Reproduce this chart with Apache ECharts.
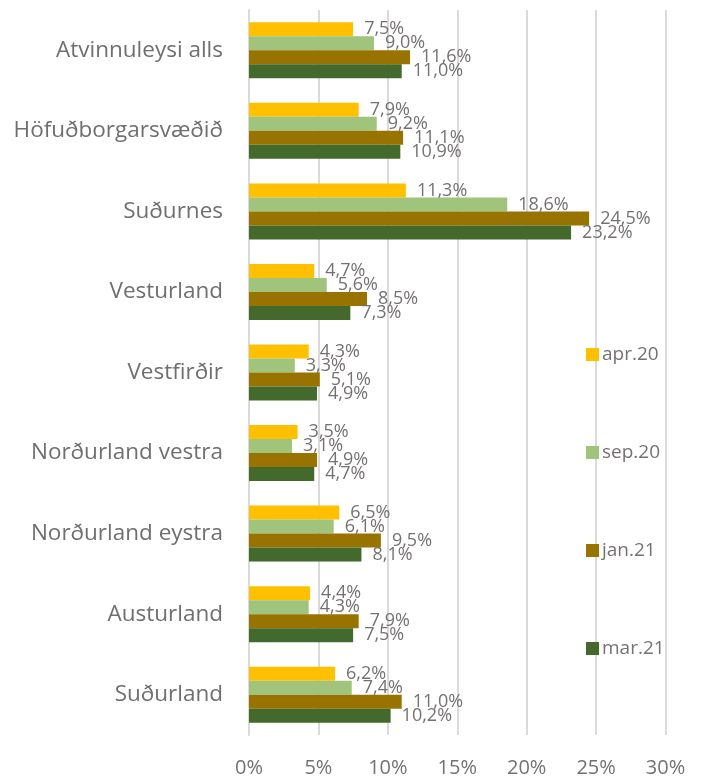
<!DOCTYPE html>
<html>
<head>
<meta charset="utf-8">
<script src="https://cdn.jsdelivr.net/npm/echarts@6/dist/echarts.min.js"></script>
<style>html,body{margin:0;padding:0;background:#fff}#c{width:704px;height:778px}</style>
</head>
<body>
<div id="c"></div>
<script>
const categories = ["Atvinnuleysi alls","Höfuðborgarsvæðið","Suðurnes","Vesturland","Vestfirðir","Norðurland vestra","Norðurland eystra","Austurland","Suðurland"];
const seriesNames = ["apr.20","sep.20","jan.21","mar.21"];
const apr20 = [7.5,7.9,11.3,4.7,4.3,3.5,6.5,4.4,6.2];
const sep20 = [9.0,9.2,18.6,5.6,3.3,3.1,6.1,4.3,7.4];
const jan21 = [11.6,11.1,24.5,8.5,5.1,4.9,9.5,7.9,11.0];
const mar21 = [11.0,10.9,23.2,7.3,4.9,4.7,8.1,7.5,10.2];
const xTicks = [0,5,10,15,20,25,30];

const colors = ["#FFC000","#A0C47C","#997300","#44692C"];
const data = [apr20, sep20, jan21, mar21];
const font = "'Open Sans', 'Noto Sans', sans-serif";
const chart = echarts.init(document.getElementById('c'));
chart.setOption({
  animation: false,
  textStyle: {fontFamily: font},
  grid: {left: 249, right: 38.5, top: 10, bottom: 43, containLabel: false},
  legend: {
    orient: 'vertical', left: 581, top: 340,
    itemWidth: 13, itemHeight: 13, itemGap: 79,
    icon: 'rect',
    data: seriesNames,
    textStyle: {color: '#767171', fontSize: 19, fontFamily: font, padding: [0,0,0,-2]}
  },
  xAxis: {
    type: 'value', min: xTicks[0], max: xTicks[xTicks.length-1], interval: 5,
    axisLine: {show: false}, axisTick: {show: false},
    splitLine: {lineStyle: {color: '#dadada', width: 2}},
    axisLabel: {formatter: '{value}%', color: '#767171', fontSize: 20, margin: 23, fontFamily: font}
  },
  yAxis: {
    type: 'category', data: categories, inverse: true,
    axisLine: {show: true, lineStyle: {color: '#dadada', width: 2}},
    axisTick: {show: false},
    axisLabel: {color: '#6f6f6f', fontSize: 22.5, margin: 26, fontFamily: font}
  },
  series: seriesNames.map((n, i) => ({
    name: n, type: 'bar', data: data[i],
    barGap: '0%', barCategoryGap: '30.5%',
    itemStyle: {color: colors[i]},
    label: {
      show: true, position: 'right', distance: 11,
      color: '#767171', fontSize: 18, fontFamily: font,
      formatter: p => p.value.toFixed(1).replace('.', ',') + '%'
    }
  }))
});
</script>
</body>
</html>
